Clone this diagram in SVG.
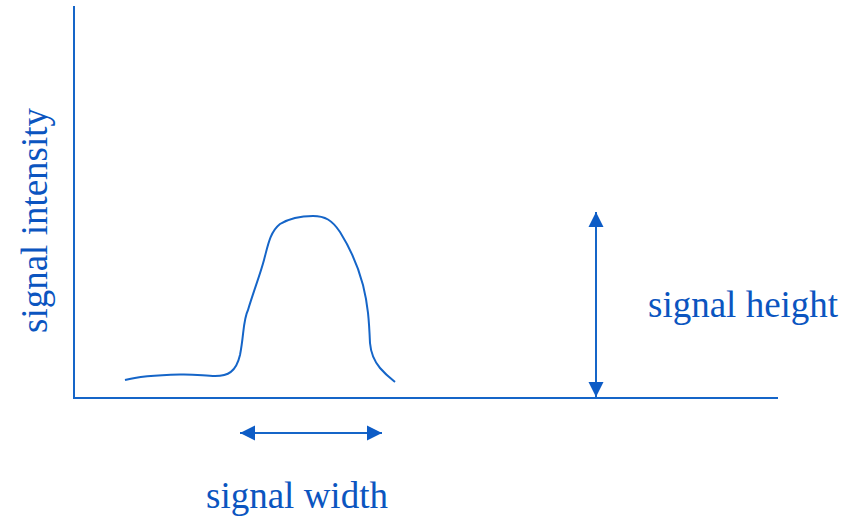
<svg xmlns="http://www.w3.org/2000/svg" width="857" height="519" viewBox="0 0 857 519">
<style>
.ln{stroke:#1565c8;stroke-width:2;fill:none}
.tx{font-family:"Liberation Serif","Times New Roman",serif;font-size:37px;fill:#0b55c0}
</style>
<defs>
<marker id="ah" viewBox="0 0 10 10" refX="10" refY="5" markerWidth="15" markerHeight="16" markerUnits="userSpaceOnUse" orient="auto-start-reverse">
<path d="M0,0 L10,5 L0,10 z" fill="#0d5cc6"/>
</marker>
</defs>
<rect width="857" height="519" fill="#fff"/>
<g id="axes">
<path class="ln" d="M74,6 V398 H778"/>
</g>
<g id="curve">
<path class="ln" d="M125,380 C140,376 160,375 180,374.5 C195,374 205,376 215,376 C228,376 236,372 240,355 C244,335 243,320 248,310 C254,290 260,275 264,260 C268,245 270,232 280,224 C290,218 300,216 313,216 C325,216 332,220 340,232 C350,248 357,262 363,285 C368,305 369,320 370,343 C371,355 375,362 380,368 C386,375 390,378 395,382"/>
</g>
<g id="connectors">
<line class="ln" x1="596" y1="212" x2="596" y2="397" marker-start="url(#ah)" marker-end="url(#ah)"/>
<line class="ln" x1="240" y1="433" x2="382" y2="433" marker-start="url(#ah)" marker-end="url(#ah)"/>
</g>
<g id="label-height"><text class="tx" x="648" y="317">signal height</text></g>
<g id="label-width"><text class="tx" x="206" y="508">signal width</text></g>
<g id="label-intensity"><text class="tx" transform="translate(47,333) rotate(-90)">signal intensity</text></g>
</svg>
